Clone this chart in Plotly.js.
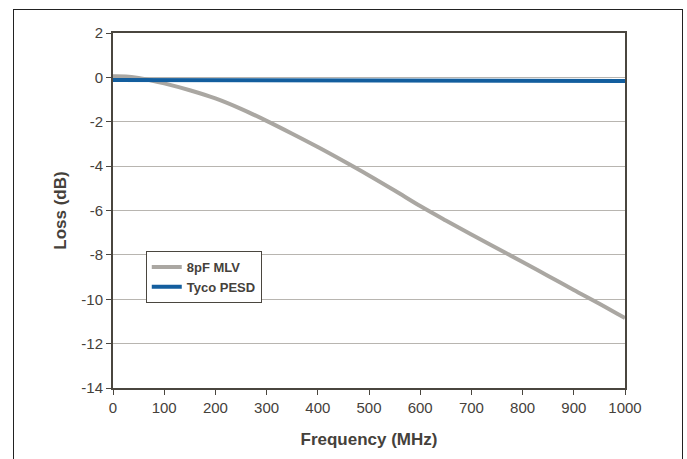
<!DOCTYPE html>
<html>
<head>
<meta charset="utf-8">
<script src="https://cdn.plot.ly/plotly-3.0.1.min.js"></script>
<style>
  html, body { margin: 0; padding: 0; background: #ffffff; }
  #wrap { position: relative; width: 687px; height: 459px; overflow: hidden; }
  #frame { position: absolute; left: 13px; top: 9px; width: 668px; height: 470px; border: 1.5px solid #222; pointer-events: none; }
  #chart { position: absolute; left: 0; top: 0; width: 687px; height: 459px; }
</style>
</head>
<body>
<div id="wrap">
  <div id="chart"></div>
  <div id="frame"></div>
</div>
<script>
const freqMHz = [0, 25, 50, 75, 100, 150, 200, 250, 300, 350, 400, 450, 500, 550, 600, 650, 700, 750, 800, 850, 900, 950, 1000];
const mlv8pF = [0.05, 0.04, -0.03, -0.14, -0.27, -0.58, -0.95, -1.42, -1.96, -2.54, -3.14, -3.77, -4.42, -5.1, -5.8, -6.45, -7.08, -7.7, -8.32, -8.95, -9.58, -10.2, -10.85];
const freqPESD = [0, 250, 500, 750, 1000];
const tycoPESD = [-0.12, -0.13, -0.14, -0.15, -0.16];
const seriesNames = ["8pF MLV", "Tyco PESD"];
const yTicks = [2, 0, -2, -4, -6, -8, -10, -12, -14];
const xTicks = [0, 100, 200, 300, 400, 500, 600, 700, 800, 900, 1000];

const textColor = "#45413b";
const axisColor = "#4a463f";

const traces = [
  {
    x: freqMHz, y: mlv8pF, name: seriesNames[0], type: "scatter", mode: "lines",
    line: { color: "#aaa7a2", width: 4, shape: "spline" }
  },
  {
    x: freqPESD, y: tycoPESD, name: seriesNames[1], type: "scatter", mode: "lines",
    line: { color: "#135e9e", width: 4 }
  }
];

const layout = {
  width: 687, height: 459,
  margin: { l: 113, r: 62, t: 33, b: 71 },
  paper_bgcolor: "#ffffff",
  plot_bgcolor: "#ffffff",
  font: { family: "Liberation Sans, Arial, sans-serif", color: textColor, size: 15 },
  showlegend: true,
  legend: {
    x: 0.064, y: 0.386, xanchor: "left", yanchor: "top",
    bordercolor: axisColor, borderwidth: 1, bgcolor: "#ffffff",
    font: { size: 13, color: textColor, family: "Liberation Sans, Arial, sans-serif", weight: "bold" },
    itemwidth: 30, tracegroupgap: 0
  },
  xaxis: {
    range: [0, 1000], tickvals: xTicks, ticktext: xTicks.map(String),
    showgrid: false, zeroline: false,
    showline: true, linecolor: axisColor, linewidth: 2, mirror: true,
    ticks: "outside", ticklen: 5, tickcolor: axisColor, tickwidth: 1,
    tickfont: { size: 15, color: textColor },
    title: { text: "Frequency (MHz)", font: { size: 17, color: textColor, weight: "bold" }, standoff: 18 }
  },
  yaxis: {
    range: [-14, 2], tickvals: yTicks, ticktext: yTicks.map(String),
    showgrid: true, gridcolor: "#b8b5b0", gridwidth: 1, zeroline: false,
    showline: true, linecolor: axisColor, linewidth: 2, mirror: true,
    ticks: "outside", ticklen: 5, tickcolor: axisColor, tickwidth: 1,
    tickfont: { size: 15, color: textColor },
    title: { text: "Loss (dB)", font: { size: 17, color: textColor, weight: "bold" }, standoff: 10 }
  }
};

Plotly.newPlot("chart", traces, layout, { displayModeBar: false, staticPlot: true });
</script>
</body>
</html>
